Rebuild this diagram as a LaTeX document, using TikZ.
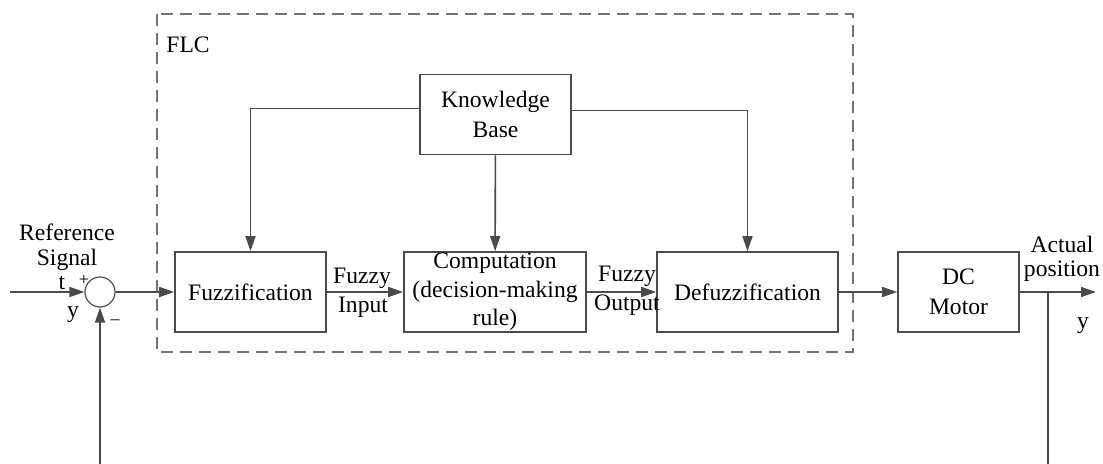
\documentclass[tikz,border=0pt]{standalone}
\usepackage{fontspec}
\setmainfont{Liberation Serif}
\usepackage{xcolor}
\usepackage{tikz}
\usetikzlibrary{shapes, arrows.meta, positioning}
\definecolor{linegray}{HTML}{4A4A4A}
\tikzset{
	blockbox/.style={draw=linegray, line width=0.8pt, align=center, minimum height=40pt, inner sep=2pt},
	sumcircle/.style={draw=linegray, line width=0.6pt, circle, minimum size=15pt, inner sep=0pt},
	lbl/.style={inner sep=0pt, align=center},
	sigline/.style={draw=linegray, line width=0.8pt, -{Triangle[length=7.5pt,width=5pt]}},
	plainline/.style={draw=linegray, line width=0.8pt}
}

\begin{document}
\begin{tikzpicture}[x=0.5pt, y=-0.5pt, font=\fontsize{11.8}{14.8}\selectfont]
				\useasboundingbox (0,0) rectangle (1103,464);
				
				\draw[gray!90!black, line width=0.6pt, dash pattern=on 6pt off 3.5pt]
				(157,14) rectangle (853,352);
				\node[lbl, anchor=west] (flc) at (166,45) {FLC};
				
				\node[blockbox, minimum width=75.5pt] (kb) at (495.5,114.5) {Knowledge\\Base};
				\node[blockbox, minimum width=75.5pt] (fuzz) at (250.5,292) {Fuzzification};
				\node[blockbox, minimum width=91pt, inner ysep=0pt, font=\fontsize{11.8}{14.2}\selectfont] (comp) at (495,292) {Computation\\(decision-making\\rule)};
				\node[blockbox, minimum width=90.5pt] (defuzz) at (747.5,292) {Defuzzification};
				\node[blockbox, minimum width=60.5pt] (motor) at (958.5,292) {DC\\Motor};
				\node[sumcircle] (sum) at (100,292) {};
				
				\coordinate (in) at (10,292);
				\coordinate (out) at (1096,292);
				\coordinate (tap) at (1048,292);
				\coordinate (tapend) at (1048,464);
				\coordinate (fbstart) at (100,464);
				
				\draw[sigline] (in) -- (sum);
				\draw[sigline] (sum) -- (fuzz);
				\draw[sigline] (fuzz) -- (comp);
				\draw[sigline] (comp) -- (defuzz);
				\draw[sigline] (defuzz) -- (motor);
				\draw[sigline] (motor) -- (out);
				\draw[plainline] (tap) -- (tapend);
				\draw[sigline] (fbstart) -- (sum);
				
				\draw[sigline] ([yshift=3pt]kb.west) -| (fuzz.north);
				\draw[sigline] (kb) -- (comp);
				\draw[sigline] ([yshift=2pt]kb.east) -| (defuzz.north);
				
				\node[lbl] (ref1) at (67,232) {Reference};
				\node[lbl] (ref2) at (67,260) {Signal};
				\node[lbl] (reft) at (62,283) {t};
				\node[lbl] (refy) at (73,315) {y};
				\node[lbl, font=\fontsize{9}{10}\selectfont] (plus) at (84,280) {+};
				\node[lbl, font=\fontsize{9}{10}\selectfont] (minus) at (115,322) {--};
				
				\node[lbl] (fin1) at (362,278) {Fuzzy};
				\node[lbl] (fin2) at (363,307) {Input};
				\node[lbl] (fout1) at (627,276) {Fuzzy};
				\node[lbl] (fout2) at (627,305) {Output};
				
				\node[lbl] (act1) at (1062,244) {Actual};
				\node[lbl] (act2) at (1062,271) {position};
				\node[lbl] (outy) at (1083,326) {y};
			\end{tikzpicture}
\end{document}
